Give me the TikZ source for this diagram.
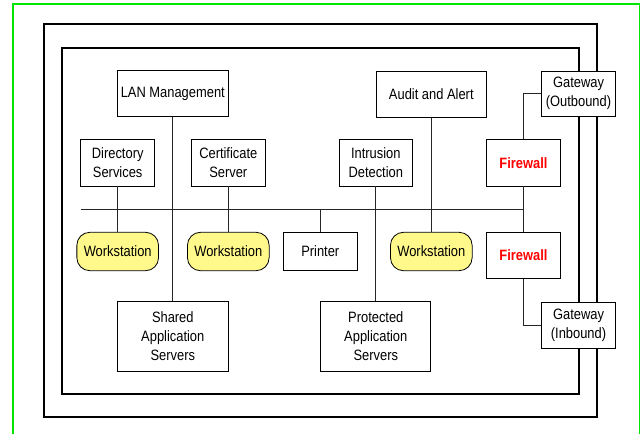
\documentclass[tikz,border=0pt]{standalone}
\usepackage{fontspec}
\setmainfont{Liberation Sans}
\newfontfamily\boxfont[FakeStretch=0.86]{Liberation Sans}
\begin{document}
\begin{tikzpicture}[x=1pt,y=-1pt,
  every node/.style={font=\boxfont\fontsize{15}{19}\selectfont, align=center, inner sep=0pt},
  box/.style={draw=black, line width=0.8pt, fill=white},
  ws/.style={draw=black, line width=0.8pt, fill=yellow!45, rounded corners=13pt,
    minimum width=81.7pt, minimum height=38.4pt},
  fw/.style={box, minimum width=73.6pt, minimum height=46.4pt,
    text=red, font=\boxfont\fontsize{15}{19}\selectfont\bfseries},
  link/.style={line width=0.8pt, draw=black!85},
  wall/.style={line width=1.6pt, draw=black}]
\useasboundingbox (0,0) rectangle (641,434);
\clip (0,0) rectangle (641,434);

% frame and enclosure walls
\draw[line width=1.5pt, draw=green!90!black] (13,4) rectangle (639.5,450);
\draw[wall] (43.7,24) rectangle (597,416.7);
\draw[wall] (62,47.7) rectangle (578.7,394);

% servers and services
\node[box, minimum width=111pt, minimum height=46.4pt] (lan) at (172.8,93.5) {LAN Management};
\node[box, minimum width=110.6pt, minimum height=46.4pt] (audit) at (431.3,94.5) {Audit and Alert};
\node[box, minimum width=74pt, minimum height=46.4pt] (dir) at (117.7,162.8) {Directory\\Services};
\node[box, minimum width=74pt, minimum height=46.4pt] (cert) at (228.3,162.8) {Certificate\\Server};
\node[box, minimum width=73.7pt, minimum height=46.4pt] (ids) at (375.8,162.8) {Intrusion\\Detection};
\node[fw] (fw1) at (523.5,162.8) {Firewall};
\node[fw] (fw2) at (523.5,255.5) {Firewall};

% hosts on the segment
\node[ws] (ws1) at (117.7,251.5) {Workstation};
\node[ws] (ws2) at (228.3,251.5) {Workstation};
\node[box, minimum width=74pt, minimum height=38.4pt] (prn) at (320.3,251.5) {Printer};
\node[ws] (ws3) at (431.3,251.5) {Workstation};

\node[box, minimum width=111pt, minimum height=69.6pt] (shared) at (172.8,336.5) {Shared\\Application\\Servers};
\node[box, minimum width=110pt, minimum height=69.6pt] (prot) at (375.8,336.5) {Protected\\Application\\Servers};

% LAN segment
\coordinate (busL) at (80.7,209);
\coordinate (busR) at (523.5,209);

% connectors
\draw[link] (busL) -- (busR);
\draw[link] (dir.south) -- (ws1.north);
\draw[link] (cert.south) -- (ws2.north);
\draw[link] (prn.north) -- (prn.north |- busL);
\draw[link] (lan.south) -- (shared.north);
\draw[link] (ids.south) -- (prot.north);
\draw[link] (audit.south) -- (ws3.north);
\draw[link] (fw1.south) -- (fw2.north);

% gateways sit across the walls
\node[box, minimum width=73.6pt, minimum height=45.7pt] (gwo) at (578.5,93.8) {Gateway\\(Outbound)};
\node[box, minimum width=73.6pt, minimum height=46pt] (gwi) at (578.5,325) {Gateway\\(Inbound)};
\draw[link] (fw1.north) |- (gwo.west);
\draw[link] (fw2.south) |- (gwi.west);
\end{tikzpicture}
\end{document}
